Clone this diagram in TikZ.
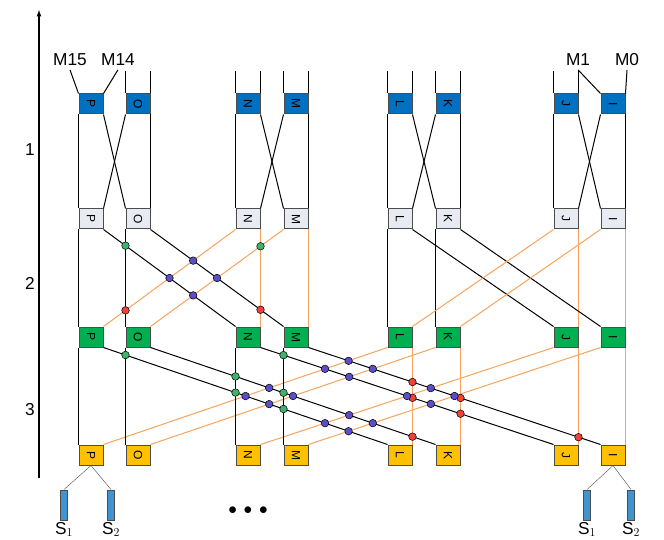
\documentclass[tikz,border=0pt]{standalone}
\usepackage{fontspec}
\setmainfont{Liberation Sans}
\usepackage{tikz}
\usetikzlibrary{positioning,arrows}
\definecolor{bblue}{HTML}{0070C0}
\definecolor{lgray}{HTML}{E8ECF2}
\definecolor{bgreen}{HTML}{00B050}
\definecolor{byellow}{HTML}{FFC000}
\definecolor{lorange}{HTML}{F7A35C}
\definecolor{dblue}{HTML}{5B4FC9}
\definecolor{dred}{HTML}{F0413A}
\definecolor{dgreen}{HTML}{3DB36B}
\newcommand\xdot[5]{\filldraw[fill=#1,draw=black,line width=.5pt] (intersection of #2--#3 and #4--#5) circle (3.8pt);}

\begin{document}
\begin{tikzpicture}[x=1pt,y=-1pt,line width=1pt,every node/.style={font=\LARGE},
  cell/.style={draw=black!70,minimum width=24pt,minimum height=20pt,inner sep=0pt,font=\large},
  ol/.style={lorange,line width=1pt},
  sbox/.style={draw=black!70,fill=bblue!75,minimum width=7pt,minimum height=30pt,inner sep=0pt}]
\useasboundingbox (0,0) rectangle (664,540);
			%axis
			\draw[-latex,line width=1.2pt] (39,478) -- (39,10);
			\node at (30,150) {1};
			\node at (30,283) {2};
			\node at (30,410) {3};

			%cells
			\foreach \n/\x in {P/91,O/138,N/248,M/296,L/400,K/448,J/566,I/613}{
				\node[cell,fill=bblue] (b\n) at (\x,104) {\rotatebox{-90}{\n}};
				\node[cell,fill=lgray] (w\n) at (\x,219) {\rotatebox{-90}{\n}};
				\node[cell,fill=bgreen] (g\n) at (\x,337) {\rotatebox{-90}{\n}};
				\node[cell,fill=byellow] (y\n) at (\x,455) {\rotatebox{-90}{\n}};
			}

			%inputs
			\node (m15) at (70,60) {M15};
			\node (m14) at (118,60) {M14};
			\node (m1) at (578,60) {M1};
			\node (m0) at (627,60) {M0};
			\draw (bP.north west) -- (m15.south);
			\draw (bP.north east) -- (m14.south);
			\draw (bI.north west) -- (m1.south);
			\draw (bI.north east) -- (m0.south);
			\foreach \n in {O,N,M,L,K,J}{
				\draw (b\n.north west) -- ++(0,-22);
				\draw (b\n.north east) -- ++(0,-22);
			}

			%stage 1
			\foreach \a/\b in {P/O,N/M,L/K,J/I}{
				\draw (b\a.south west) -- (w\a.north west);
				\draw (b\b.south east) -- (w\b.north east);
				\draw (b\a.south east) -- (w\b.north west);
				\draw (b\b.south west) -- (w\a.north east);
			}

			%stage 2
			\foreach \a/\b/\c/\d in {P/O/N/M,L/K/J/I}{
				\draw (w\a.south west) -- (g\a.north west);
				\draw (w\b.south west) -- (g\b.north west);
				\draw[ol] (w\c.south east) -- (g\c.north east);
				\draw[ol] (w\d.south east) -- (g\d.north east);
				\draw (w\a.south east) -- (g\c.north west);
				\draw (w\b.south east) -- (g\d.north west);
				\draw[ol] (w\c.south west) -- (g\a.north east);
				\draw[ol] (w\d.south west) -- (g\b.north east);
			}

			%stage 3
			\foreach \a/\c in {P/L,O/K,N/J,M/I}{
				\draw (g\a.south west) -- (y\a.north west);
				\draw[ol] (g\c.south east) -- (y\c.north east);
				\draw (g\a.south east) -- (y\c.north west);
				\draw[ol] (g\c.south west) -- (y\a.north east);
			}

			%crossings stage 2
			\xdot{dgreen}{wP.south east}{gN.north west}{wO.south west}{gO.north west}
			\xdot{dred}{wO.south east}{gM.north west}{wN.south east}{gN.north east}
			\xdot{dred}{wN.south west}{gP.north east}{wO.south west}{gO.north west}
			\xdot{dgreen}{wM.south west}{gO.north east}{wN.south east}{gN.north east}
			\foreach \a/\c in {P/N,O/M}{
				\foreach \d/\e in {N/P,M/O}{
					\xdot{dblue}{w\a.south east}{g\c.north west}{w\d.south west}{g\e.north east}
				}
			}

			%crossings stage 3
			\foreach \a/\c/\v in {P/L/O,P/L/N,P/L/M,O/K/N,O/K/M,N/J/M}{
				\xdot{dgreen}{g\a.south east}{y\c.north west}{g\v.south west}{y\v.north west}
			}
			\foreach \a/\c/\v in {M/I/L,M/I/K,M/I/J,N/J/L,N/J/K,O/K/L}{
				\xdot{dred}{g\a.south east}{y\c.north west}{g\v.south east}{y\v.north east}
			}
			\foreach \a/\c in {P/L,O/K,N/J,M/I}{
				\foreach \d/\e in {L/P,K/O,J/N,I/M}{
					\xdot{dblue}{g\a.south east}{y\c.north west}{g\d.south west}{y\e.north east}
				}
			}

			%outputs
			\node[sbox] (s1) at (64,505) {};
			\node[sbox] (s2) at (111,505) {};
			\node[sbox] (s3) at (587,505) {};
			\node[sbox] (s4) at (631,505) {};
			\draw[thin,black!70] (yP.south) -- (s1.north);
			\draw[thin,black!70] (yP.south) -- (s2.north);
			\draw[thin,black!70] (yI.south) -- (s3.north);
			\draw[thin,black!70] (yI.south) -- (s4.north);
			\node[below=-2pt of s1] {S$_1$};
			\node[below=-2pt of s2] {S$_2$};
			\node[below=-2pt of s3] {S$_1$};
			\node[below=-2pt of s4] {S$_2$};
			\node (dots) at (248,511) {$\bullet\,\bullet\,\bullet$};
		\end{tikzpicture}
\end{document}
